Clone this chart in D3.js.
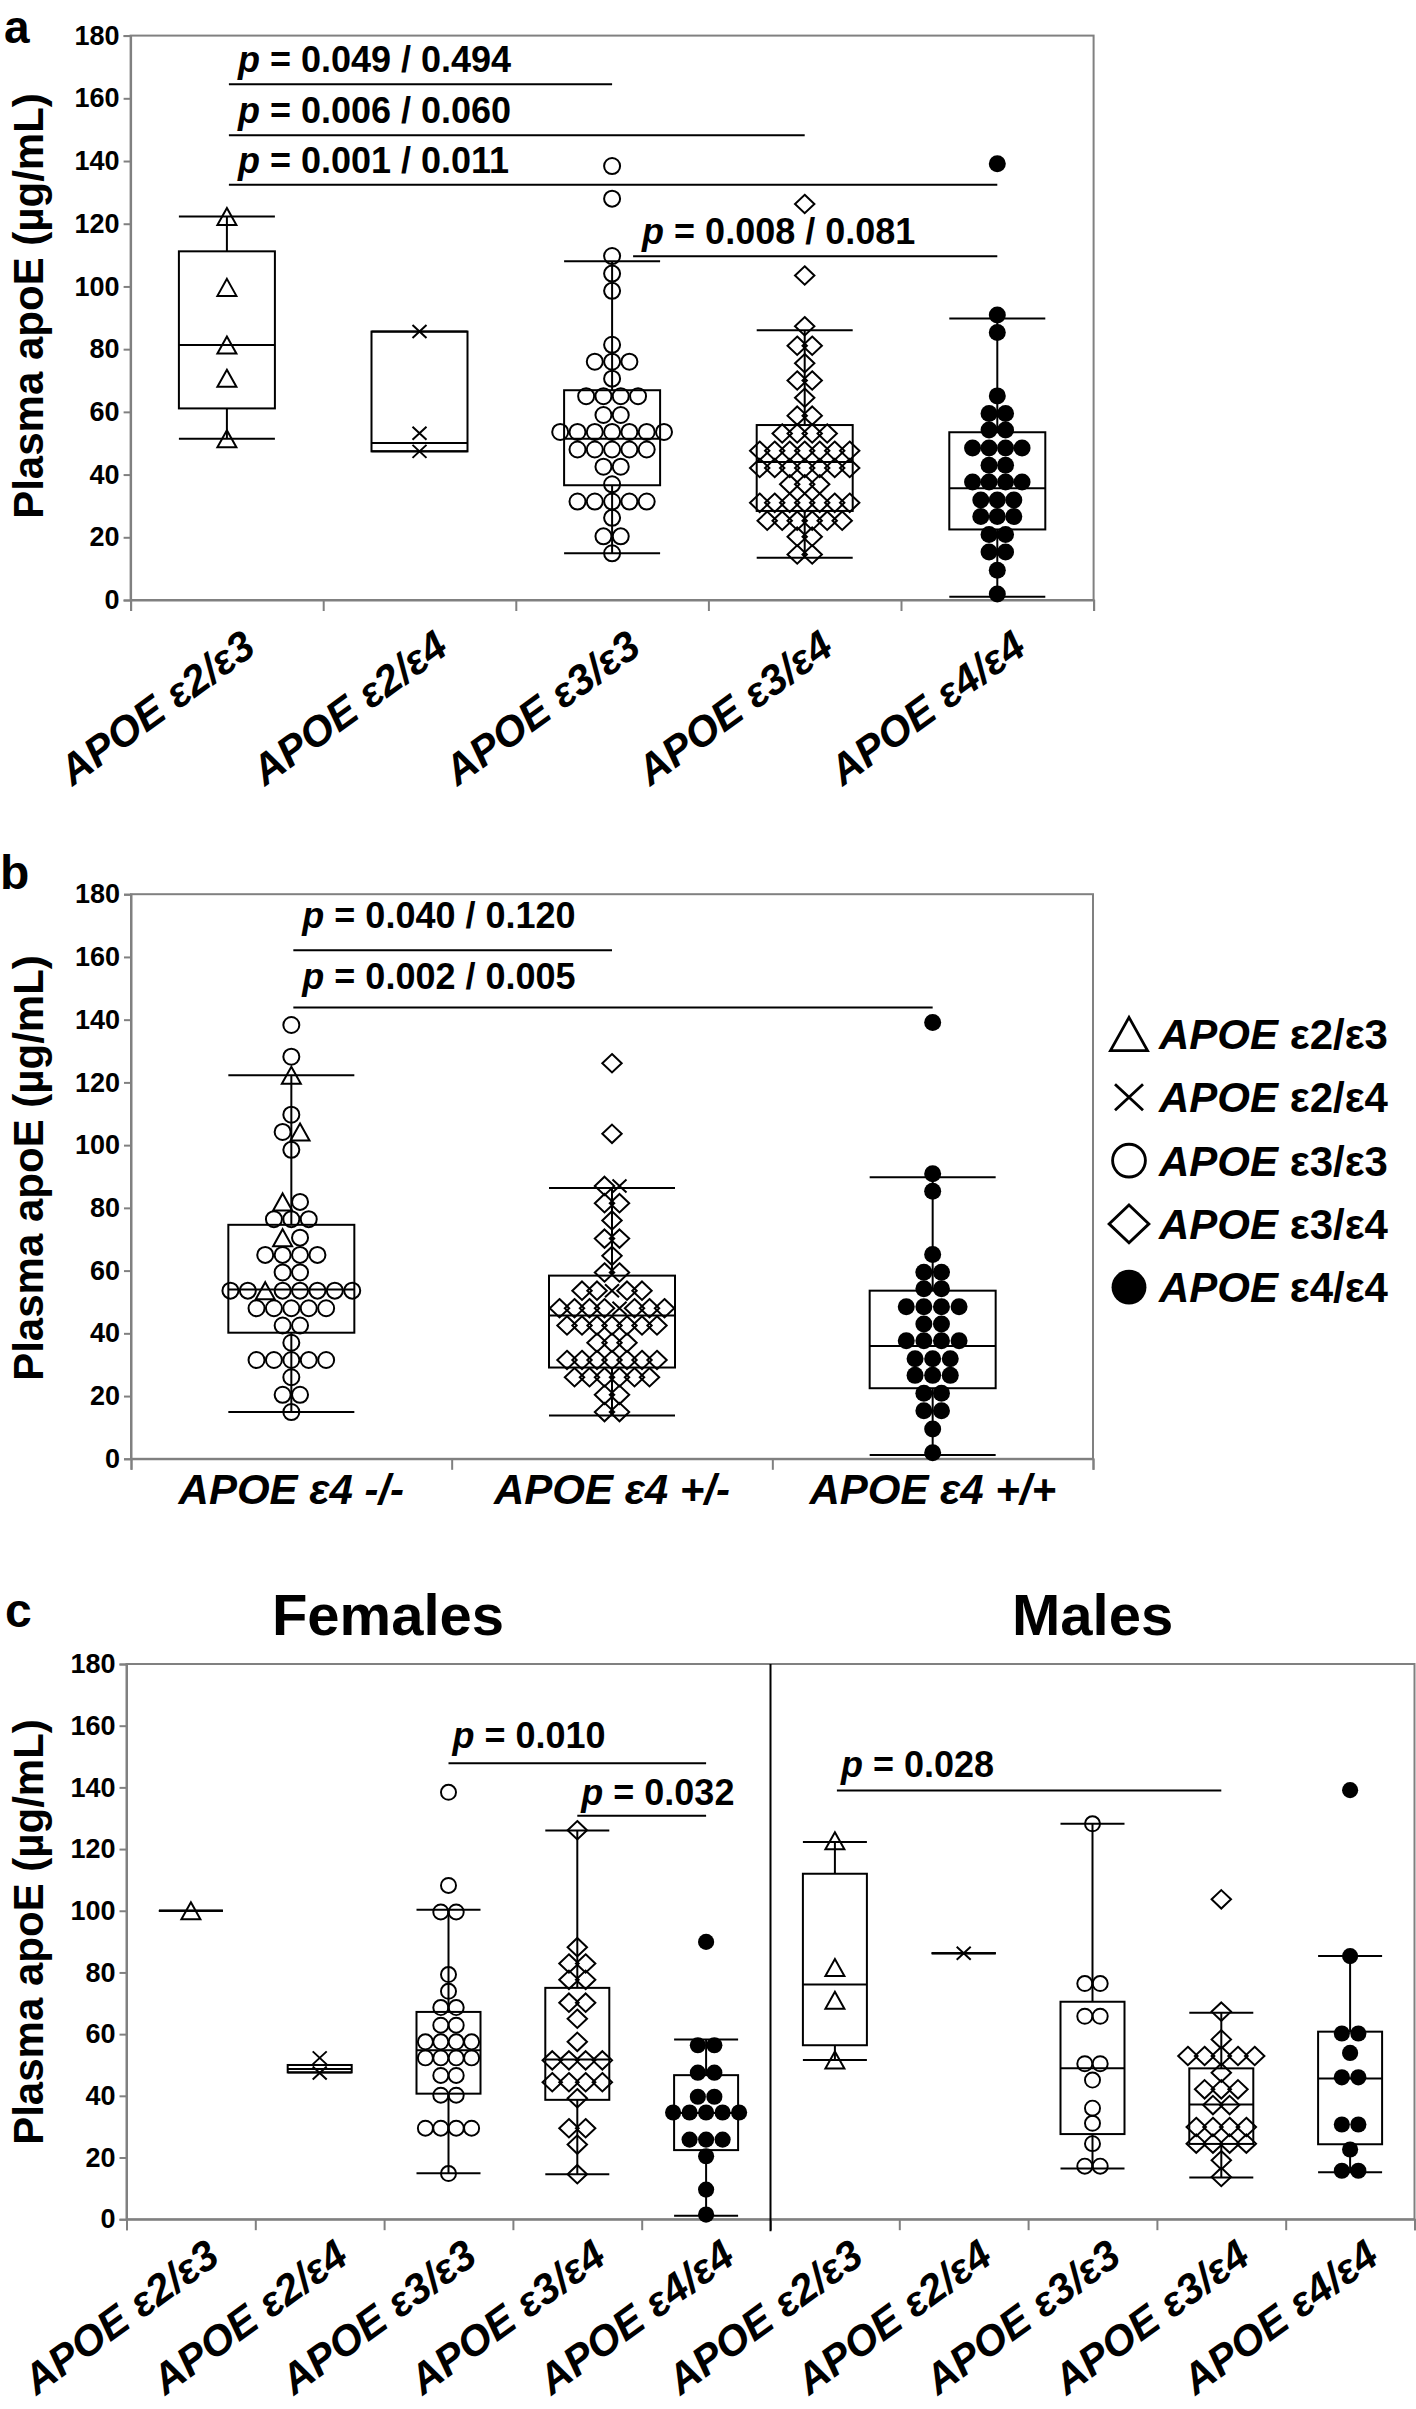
<!DOCTYPE html>
<html><head><meta charset="utf-8">
<script src="https://cdn.jsdelivr.net/npm/d3@7/dist/d3.min.js"></script>
<style>
body{margin:0;background:#fff}
svg{display:block}
text{font-family:"Liberation Sans",Arial,Helvetica,sans-serif;fill:#000}
</style></head><body>
<svg id="chart" width="1416" height="2409"></svg>
<script>
// ================= DATA =================
const yTicks = [0,20,40,60,80,100,120,140,160,180];
const genotypes = ["e23","e24","e33","e34","e44"];
const genoLabels = {e23:"ε2/ε3", e24:"ε2/ε4", e33:"ε3/ε3", e34:"ε3/ε4", e44:"ε4/ε4"};
const carrierGroups = ["neg","het","hom"];
const carrierLabels = ["ε4 -/-","ε4 +/-","ε4 +/+"];
const sexTitles = ["Females","Males"];

// ---- panel a : plasma apoE by genotype (µg/mL) ----
const aE23 = [122.3, 99.7, 81.3, 70.7, 51.4];
const aE24 = [85.6, 53.2, 47.4];
const aE33 = [138.4, 128, 109.7, 104.1, 98.6, 81.4, 76, 76, 76, 70.6, 65, 65, 65, 65, 59, 59,
  53.6, 53.6, 53.6, 53.6, 53.6, 53.6, 53.6, 48, 48, 48, 48, 48, 42.5, 42.5, 36.9,
  31.4, 31.4, 31.4, 31.4, 31.4, 26.2, 20.3, 20.3, 14.9];
const aE34 = [126.3, 103.5, 87.3, 81.1, 81.1, 75.5, 70, 70, 64.5, 58.8, 58.8, 53.1, 53.1, 53.1, 53.1,
  47.6, 47.6, 47.6, 47.6, 47.6, 47.6, 47.6, 42.1, 42.1, 42.1, 42.1, 42.1, 42.1, 42.1,
  36.9, 36.9, 36.9, 31, 31, 31, 31, 31, 31, 31, 25.3, 25.3, 25.3, 25.3, 25.3, 25.3,
  20.2, 20.2, 14.5, 14.5];
const aE44 = [139.1, 90.9, 85.3, 65.1, 59.5, 59.5, 54.2, 54.2, 48.5, 48.5, 48.5, 48.5, 43, 43,
  37.6, 37.6, 37.6, 37.6, 31.9, 31.9, 31.9, 26.6, 26.6, 26.6, 20.9, 20.9, 15.3, 15.3, 9.5, 1.9];
// box stats: [lower whisker, Q1, median, Q3, upper whisker]
const aBoxes = [[51.4, 61.1, 81.3, 111.2, 122.3], [47.4, 47.4, 50.1, 85.6, 85.6],
  [14.9, 36.6, 51.4, 66.9, 108], [13.5, 28.4, 44, 55.8, 86], [1.0, 22.5, 35.6, 53.5, 89.8]];
const aComparisons = [
  {from:"e23", to:"e33", y:164.5, p:"0.049 / 0.494"},
  {from:"e23", to:"e34", y:148.2, p:"0.006 / 0.060"},
  {from:"e23", to:"e44", y:132.4, p:"0.001 / 0.011"},
  {from:"e33", to:"e44", y:109.6, p:"0.008 / 0.081"}];

// ---- panel b : by APOE ε4 carrier status  [value, genotype] ----
const bNeg = [[138.3,"e33"],[128.2,"e33"],[122.3,"e23"],[109.7,"e33"],[104.2,"e33"],[104.2,"e23"],
  [98.5,"e33"],[81.9,"e23"],[81.9,"e33"],[76.4,"e33"],[76.4,"e33"],[76.4,"e33"],[70.5,"e23"],[70.5,"e33"],
  [65,"e33"],[65,"e33"],[65,"e33"],[65,"e33"],[59.4,"e33"],[59.4,"e33"],
  [53.6,"e33"],[53.6,"e33"],[53.6,"e23"],[53.6,"e33"],[53.6,"e33"],[53.6,"e33"],[53.6,"e33"],[53.6,"e33"],
  [48,"e33"],[48,"e33"],[48,"e33"],[48,"e33"],[48,"e33"],[42.5,"e33"],[42.5,"e33"],[37,"e33"],
  [31.5,"e33"],[31.5,"e33"],[31.5,"e33"],[31.5,"e33"],[31.5,"e33"],[26,"e33"],[20.4,"e33"],[20.4,"e33"],[14.9,"e33"]];
const bHet = [[126.1,"e34"],[103.6,"e34"],[87,"e34"],[87,"e24"],[81.5,"e34"],[81.5,"e34"],[76,"e34"],
  [70.2,"e34"],[70.2,"e34"],[64.7,"e34"],[59.4,"e34"],[59.4,"e34"],
  [53.6,"e34"],[53.6,"e34"],[53.6,"e24"],[53.6,"e34"],[53.6,"e34"],
  [48,"e34"],[48,"e34"],[48,"e34"],[48,"e34"],[48,"e24"],[48,"e34"],[48,"e34"],[48,"e34"],
  [42.5,"e34"],[42.5,"e34"],[42.5,"e34"],[42.5,"e34"],[42.5,"e34"],[42.5,"e34"],[42.5,"e34"],
  [37,"e34"],[37,"e34"],[37,"e34"],
  [31.5,"e34"],[31.5,"e34"],[31.5,"e34"],[31.5,"e34"],[31.5,"e34"],[31.5,"e34"],[31.5,"e34"],
  [26,"e34"],[26,"e34"],[26,"e34"],[26,"e34"],[26,"e34"],[26,"e34"],
  [20.4,"e34"],[20.4,"e34"],[14.9,"e34"],[14.9,"e34"]];
const bHom = aE44;   // ε4/ε4 subjects are the ε4 +/+ group
const bBoxes = [[14.9, 40.2, 54, 74.6, 122.3], [13.8, 29.1, 45.7, 58.4, 86.3], [1.2, 22.5, 36, 53.6, 89.8]];
const bComparisons = [
  {from:"neg", to:"het", y:162.1, p:"0.040 / 0.120"},
  {from:"neg", to:"hom", y:143.9, p:"0.002 / 0.005"}];

// ---- panel c : by sex ----
const cF = {
  e23:[100],
  e24:[52.3, 47.4],
  e33:[138.4, 108.2, 99.6, 99.6, 79.3, 73.9, 68.6, 68.6, 62.9, 62.9, 57.5, 57.5, 57.5, 57.5,
       52.3, 52.3, 52.3, 52.3, 46.6, 46.6, 40.2, 40.2, 29.5, 29.5, 29.5, 29.5, 14.8],
  e34:[126.1, 88.2, 82.9, 82.9, 77.6, 77.6, 70.2, 70.2, 65, 57.5, 51.5, 51.5, 51.5, 51.5,
       44.4, 44.4, 44.4, 44.4, 39.2, 29.5, 29.5, 24.2, 14.6],
  e44:[89.9, 56.4, 56.4, 47.5, 47.5, 39.7, 39.7, 34.6, 34.6, 34.6, 34.6, 34.6, 25.8, 25.8, 25.8, 20.4, 9.6, 1.5]
};
const cM = {
  e23:[122.7, 81.6, 71, 51.6],
  e24:[86.2],
  e33:[128.2, 76.4, 76.4, 65.8, 65.8, 50.4, 50.4, 45.1, 36, 31.1, 24.5, 17.2, 17.2],
  e34:[103.7, 67.3, 58.3, 52.9, 52.9, 52.9, 52.9, 52.9, 47.5, 42.1, 42.1, 42.1, 37, 37,
       29.9, 29.9, 29.9, 29.9, 24.5, 24.5, 24.5, 24.5, 19.1, 13.7],
  e44:[139.1, 85.3, 60.2, 60.2, 53.9, 46, 46, 30.7, 30.7, 22.6, 15.7, 15.7]
};
const cFBoxes = {e23:[100,100,100,100,100], e24:[47.6,47.6,48.7,50,50], e33:[14.9,40.7,54.8,67.2,100.3],
  e34:[14.6,38.7,51.8,75,126], e44:[1.1,22.4,34.4,46.7,58.3]};
const cMBoxes = {e23:[51.6,56.4,76.1,112,122.3], e24:[86.2,86.2,86.2,86.2,86.2], e33:[16.4,27.6,48.9,70.5,128.2],
  e34:[13.5,24.4,37.2,48.9,66.9], e44:[15.2,24.3,45.6,60.8,85.3]};
const cComparisons = [
  {from:"F-e33", to:"F-e44", y:147.8, p:"0.010"},
  {from:"F-e34", to:"F-e44", y:130.8, p:"0.032"},
  {from:"M-e23", to:"M-e34", y:139.0, p:"0.028"}];

// ================= DRAWING =================
const svg = d3.select("#chart");
const FRAME = "#808080";

function marker(g, shape, x, y, sz) {
  const k = sz || 1;
  if (shape === "e23") {
    const w = 19*k, h = 17*k;
    g.append("path").attr("d", `M${x},${y-h/2}L${x+w/2},${y+h/2}L${x-w/2},${y+h/2}Z`)
      .attr("fill","none").attr("stroke","#000").attr("stroke-width",2*Math.sqrt(k)).attr("stroke-linejoin","miter");
  } else if (shape === "e24") {
    const w = 7*k, h = 6.5*k;
    g.append("path").attr("d", `M${x-w},${y-h}L${x+w},${y+h}M${x-w},${y+h}L${x+w},${y-h}`)
      .attr("stroke","#000").attr("stroke-width",2*Math.sqrt(k)).attr("fill","none");
  } else if (shape === "e33") {
    g.append("circle").attr("cx",x).attr("cy",y).attr("r",8*k)
      .attr("fill","none").attr("stroke","#000").attr("stroke-width",2*Math.sqrt(k));
  } else if (shape === "e34") {
    const w = 9.7*k, h = 9.2*k;
    g.append("path").attr("d", `M${x},${y-h}L${x+w},${y}L${x},${y+h}L${x-w},${y}Z`)
      .attr("fill","none").attr("stroke","#000").attr("stroke-width",2*Math.sqrt(k));
  } else {
    g.append("circle").attr("cx",x).attr("cy",y).attr("r",8.5*k).attr("fill","#000");
  }
}

// beeswarm-like rows: equal values share a row, spread symmetrically
function swarm(points, spacing) {
  const rows = d3.group(points, p => p.v);
  const out = [];
  for (const [, arr] of rows) arr.forEach((p, i) => out.push({...p, dx: (i - (arr.length-1)/2) * spacing}));
  return out;
}

function drawBox(g, cx, half, s, y) {
  const [lo,q1,med,q3,hi] = s;
  const st = sel => sel.attr("stroke","#000").attr("stroke-width",2).attr("fill","none");
  if (hi > q3) st(g.append("line").attr("x1",cx).attr("x2",cx).attr("y1",y(hi)).attr("y2",y(q3)));
  if (q1 > lo) st(g.append("line").attr("x1",cx).attr("x2",cx).attr("y1",y(q1)).attr("y2",y(lo)));
  st(g.append("line").attr("x1",cx-half).attr("x2",cx+half).attr("y1",y(hi)).attr("y2",y(hi)));
  st(g.append("line").attr("x1",cx-half).attr("x2",cx+half).attr("y1",y(lo)).attr("y2",y(lo)));
  if (q3 > q1) st(g.append("rect").attr("x",cx-half).attr("y",y(q3)).attr("width",2*half).attr("height",y(q1)-y(q3)));
  st(g.append("line").attr("x1",cx-half).attr("x2",cx+half).attr("y1",y(med)).attr("y2",y(med)));
}

function yAxis(g, y, x0) {
  g.append("g").attr("transform",`translate(${x0},0)`)
    .call(d3.axisLeft(y).tickValues(yTicks).tickSize(7).tickPadding(4))
    .call(s => s.select(".domain").attr("stroke",FRAME).attr("stroke-width",2))
    .call(s => s.selectAll(".tick line").attr("stroke",FRAME).attr("stroke-width",2))
    .call(s => s.selectAll(".tick text").attr("font-size",27).attr("font-weight","bold")
      .attr("fill","#000").attr("font-family","'Liberation Sans',Arial,sans-serif"));
}
function xAxis(g, n, x0, x1, y0) {
  const lin = d3.scaleLinear().domain([0,n]).range([x0,x1]);
  g.append("g").attr("transform",`translate(0,${y0})`)
    .call(d3.axisBottom(lin).tickValues(d3.range(n+1)).tickSize(11).tickFormat(""))
    .call(s => s.select(".domain").attr("stroke",FRAME).attr("stroke-width",2))
    .call(s => s.selectAll(".tick line").attr("stroke",FRAME).attr("stroke-width",2));
}
function frame(g, x0, x1, yTop, yBot) {
  g.append("rect").attr("x",x0).attr("y",yTop).attr("width",x1-x0).attr("height",yBot-yTop)
    .attr("fill","none").attr("stroke",FRAME).attr("stroke-width",2);
}
function yTitle(g, cy) {
  g.append("text").attr("transform",`translate(43,${cy}) rotate(-90)`).attr("text-anchor","middle")
    .attr("font-size",42).attr("font-weight","bold").text("Plasma apoE (µg/mL)");
}
function pText(g, x, y, p) {
  const t = g.append("text").attr("x",x).attr("y",y).attr("font-size",36).attr("font-weight","bold");
  t.append("tspan").attr("font-style","italic").text("p");
  t.append("tspan").text(" = " + p);
}
function comparisons(g, list, x, y, startOff, textOff, textUp) {
  list.forEach((c, i) => {
    const xa = x(c.from) + x.bandwidth()/2 + startOff[i];
    const xb = x(c.to) + x.bandwidth()/2;
    g.append("line").attr("x1",xa).attr("x2",xb).attr("y1",y(c.y)).attr("y2",y(c.y))
      .attr("stroke","#000").attr("stroke-width",2);
    pText(g, xa + textOff, y(c.y) - textUp[i], c.p);
  });
}
function slantLabel(g, cx, yb, geno, drop) {
  const t = g.append("text").attr("transform",`translate(${cx+31},${yb+drop}) rotate(-36)`)
    .attr("text-anchor","end").attr("font-size",42).attr("font-weight","bold").attr("font-style","italic");
  t.append("tspan").text("APOE ");
  t.append("tspan").text(genoLabels[geno]);
}
function panelLabel(x, y, s, size) {
  svg.append("text").attr("x",x).attr("y",y).attr("font-size",size || 48).attr("font-weight","bold").text(s);
}

// ---------- panel a ----------
{
  const g = svg.append("g");
  const X0 = 130.6, X1 = 1093.6;
  const x = d3.scaleBand().domain(genotypes).range([X0, X1]);
  const y = d3.scaleLinear().domain([0,180]).range([600, 35.6]);
  frame(g, X0, X1, y(180), y(0));
  yAxis(g, y, X0);
  xAxis(g, genotypes.length, X0, X1, y(0));
  const pts = [aE23, aE24, aE33, aE34, aE44];
  const spacing = [17, 15, 17.3, 15, 16.5];
  genotypes.forEach((k, i) => {
    const cx = x(k) + x.bandwidth()/2;
    drawBox(g, cx, 48, aBoxes[i], y);
    swarm(pts[i].map(v => ({v, g:k})), spacing[i]).forEach(p => marker(g, p.g, cx + p.dx, y(p.v)));
    slantLabel(g, cx, y(0), k, 52);
  });
  comparisons(g, aComparisons, x, y, [2,2,2,21], 9, [12,12,12,12]);
  yTitle(g, 306);
  panelLabel(4, 43, "a", 46);
}

// ---------- panel b ----------
{
  const g = svg.append("g");
  const X0 = 131, X1 = 1093;
  const x = d3.scaleBand().domain(carrierGroups).range([X0, X1]);
  const y = d3.scaleLinear().domain([0,180]).range([1458.8, 894.2]);
  frame(g, X0, X1, y(180), y(0));
  yAxis(g, y, X0);
  xAxis(g, carrierGroups.length, X0, X1, y(0));
  const pts = [bNeg.map(d => ({v:d[0], g:d[1]})), bHet.map(d => ({v:d[0], g:d[1]})), bHom.map(v => ({v, g:"e44"}))];
  const spacing = [17.4, 15, 17.6];
  carrierGroups.forEach((k, i) => {
    const cx = x(k) + x.bandwidth()/2;
    drawBox(g, cx, 63, bBoxes[i], y);
    swarm(pts[i], spacing[i]).forEach(p => marker(g, p.g, cx + p.dx, y(p.v)));
    const t = g.append("text").attr("x",cx).attr("y",1504).attr("text-anchor","middle")
      .attr("font-size",42).attr("font-weight","bold").attr("font-style","italic");
    t.append("tspan").text("APOE " + carrierLabels[i]);
  });
  comparisons(g, bComparisons, x, y, [2,2], 9, [22,18]);
  yTitle(g, 1168);
  panelLabel(0, 889, "b");

  // legend
  const lg = svg.append("g");
  genotypes.forEach((k, i) => {
    const cy = 1034 + i*63.3;
    marker(lg, k, 1129, cy, k === "e24" ? 2 : (k === "e23" ? 1.95 : 2.05));
    const t = lg.append("text").attr("x",1159).attr("y",cy+15).attr("font-size",42).attr("font-weight","bold");
    t.append("tspan").attr("font-style","italic").text("APOE");
    t.append("tspan").text(" " + genoLabels[k]);
  });
}

// ---------- panel c ----------
{
  const g = svg.append("g");
  const X0 = 126.5, X1 = 1414.5;
  const keys = [];
  ["F","M"].forEach(s => genotypes.forEach(k => keys.push(s + "-" + k)));
  const x = d3.scaleBand().domain(keys).range([X0, X1]);
  const y = d3.scaleLinear().domain([0,180]).range([2219.2, 1664]);
  frame(g, X0, X1, y(180), y(0));
  yAxis(g, y, X0);
  xAxis(g, keys.length, X0, X1, y(0));
  const xm = x("M-e23");
  g.append("line").attr("x1",xm).attr("x2",xm).attr("y1",y(180)).attr("y2",y(0)+12)
    .attr("stroke","#000").attr("stroke-width",2);
  const spacing = {e23:16, e24:16, e33:15.4, e34:16.7, e44:16.5};
  keys.forEach(key => {
    const [s, k] = key.split("-");
    const data = s === "F" ? cF[k] : cM[k];
    const box = s === "F" ? cFBoxes[k] : cMBoxes[k];
    const cx = x(key) + x.bandwidth()/2;
    drawBox(g, cx, 32, box, y);
    swarm(data.map(v => ({v, g:k})), spacing[k]).forEach(p =>
      marker(g, p.g, cx + p.dx, y(p.v), p.g === "e33" ? 0.94 : (p.g === "e44" ? 0.95 : 1)));
    slantLabel(g, cx, y(0), k, 42);
  });
  comparisons(g, cComparisons, x, y, [0,0,2], 4, [15,11,13]);
  // sex titles
  [388, 1092.6].forEach((cx, i) => {
    g.append("text").attr("x",cx).attr("y",1635).attr("text-anchor","middle")
      .attr("font-size",58).attr("font-weight","bold").text(sexTitles[i]);
  });
  yTitle(g, 1932);
  panelLabel(5, 1627, "c");
}
</script>
</body></html>
